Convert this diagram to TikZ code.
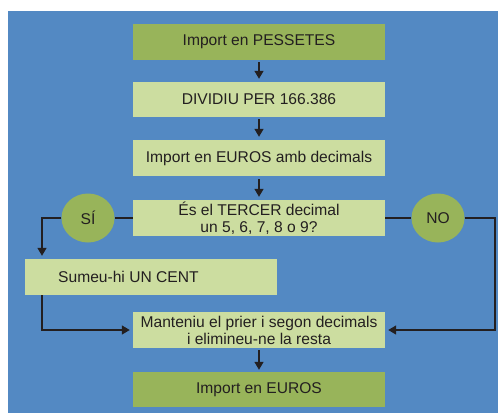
\documentclass[tikz,border=0pt]{standalone}
\usepackage{fontspec}
\setmainfont{Liberation Sans}
\usetikzlibrary{arrows.meta,calc,shapes.geometric}
\definecolor{bgblue}{HTML}{5389C3}
\definecolor{darkgr}{HTML}{98B45A}
\definecolor{lightgr}{HTML}{CCDDA0}
\definecolor{ink}{HTML}{231F20}
\begin{document}
\begin{tikzpicture}[x=1pt,y=-1pt,
  box/.style={minimum width=252pt,minimum height=36pt,inner sep=0pt,align=center,font=\fontsize{15.6}{17}\selectfont,text=ink},
  darkbox/.style={box,fill=darkgr},
  lightbox/.style={box,fill=lightgr},
  ans/.style={ellipse,fill=darkgr,minimum width=53pt,minimum height=49pt,inner sep=0pt,font=\fontsize{15.6}{17}\selectfont,text=ink},
  conn/.style={draw=ink,line width=1.4pt},
  arr/.style={conn,-{Triangle[length=8pt,width=9pt]}}]
\useasboundingbox (0,0) rectangle (498,416);
\fill[bgblue] (8,11) rectangle (498,413);
\node[darkbox] (b1) at (259,42) {Import en PESSETES};
\node[lightbox,minimum height=35pt] (b2) at (259,99.5) {DIVIDIU PER 166.386};
\node[lightbox] (b3) at (259,158) {Import en EUROS amb decimals};
\node[lightbox] (b4) at (259,218) {És el TERCER decimal\\un 5, 6, 7, 8 o 9?};
\node[ans] (si) at (88,218) {SÍ};
\node[ans] (no) at (438,218) {NO};
\node[lightbox,minimum width=252pt] (b5) at (151,277) {};
\node[anchor=west,inner sep=0pt,font=\fontsize{15.6}{17}\selectfont,text=ink] (b5t) at (58,277) {Sumeu-hi UN CENT};
\node[lightbox] (b6) at (259,330) {Manteniu el prier i segon decimals\\i elimineu-ne la resta};
\node[darkbox,minimum height=35pt] (b7) at (259,389.5) {Import en EUROS};
\coordinate (lc) at (42,218);
\coordinate (rc) at (495,218);
\coordinate (lb) at (42,330);
\coordinate (rb) at (495,330);
\draw[arr,shorten <=2pt,shorten >=3pt] (b1) -- (b2);
\draw[arr,shorten <=2pt,shorten >=3pt] (b2) -- (b3);
\draw[arr,shorten <=3pt,shorten >=3pt] (b3) -- (b4);
\draw[arr,shorten <=2pt,shorten >=2pt] (b6) -- (b7);
\draw[conn] (b4.west) -- (si.east);
\draw[conn] (b4.east) -- (no.west);
\draw[arr,shorten >=3pt] (si.west) -- (lc) -- (lc |- b5.north);
\draw[arr,shorten >=3pt] (no.east) -- (rc) -- (rb) -- (b6.east);
\draw[arr,shorten >=3pt] (lc |- b5.south) -- (lb) -- (b6.west);
\end{tikzpicture}
\end{document}
